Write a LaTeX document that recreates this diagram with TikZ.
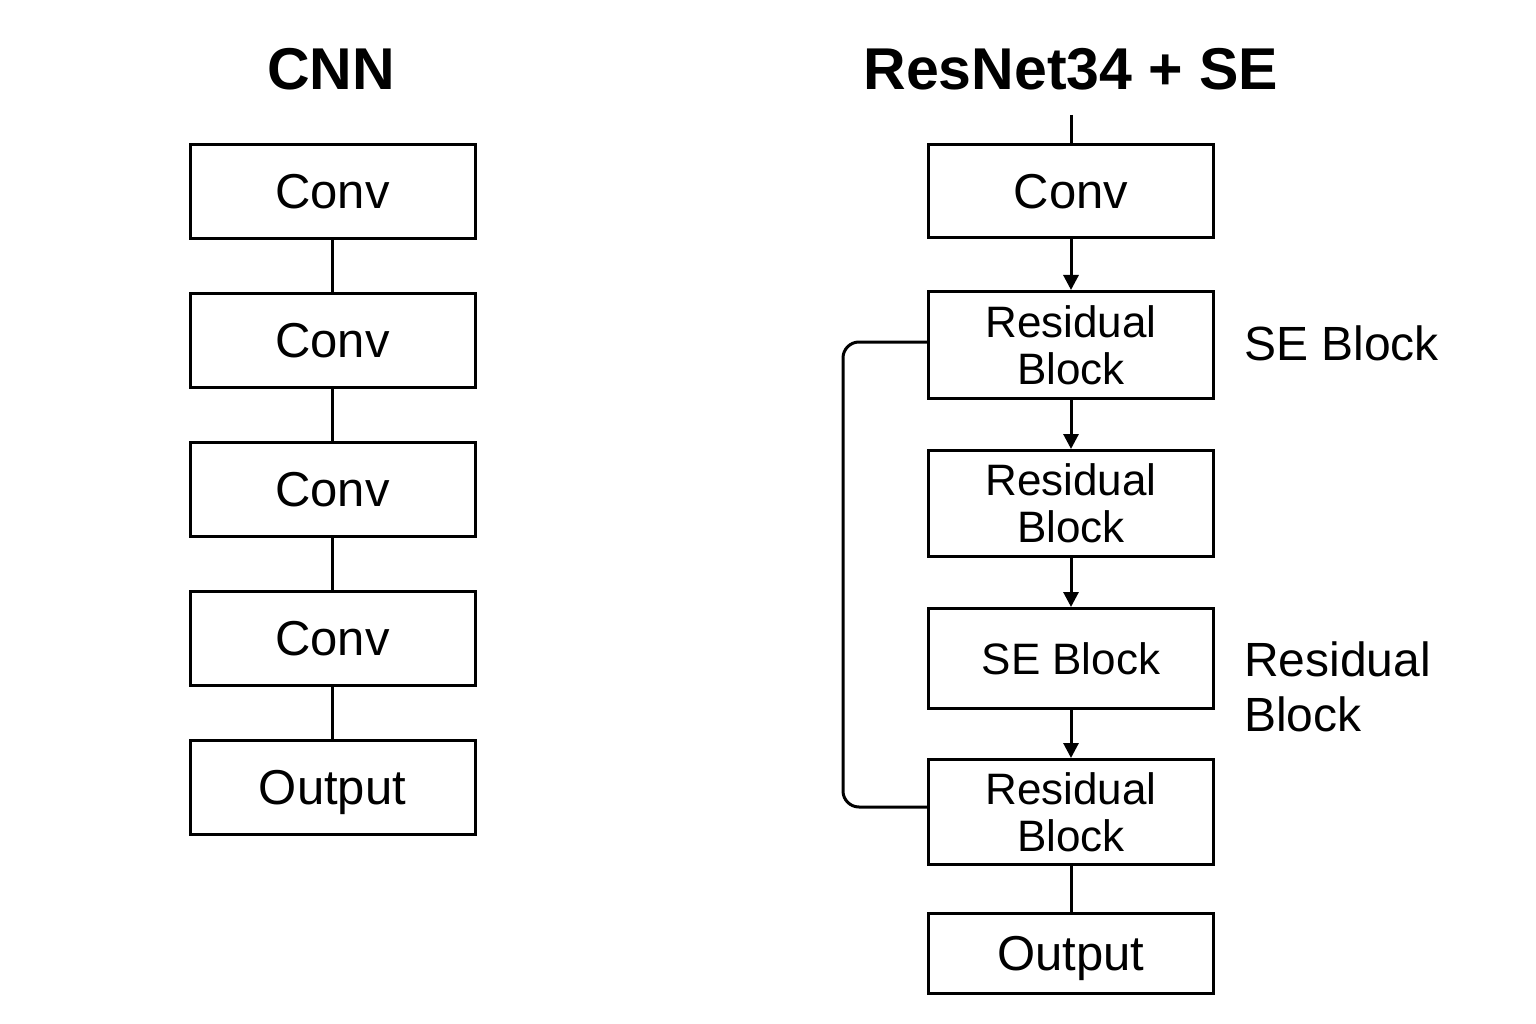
\documentclass[tikz,border=0pt]{standalone}
\usepackage{fontspec}
\setmainfont{Liberation Sans}
\usetikzlibrary{arrows.meta}
\begin{document}
\begin{tikzpicture}[x=1pt,y=-1pt,
  box/.style={draw, line width=3pt, minimum width=285pt, inner sep=0pt, text depth=0pt},
  bigtxt/.style={font=\fontsize{49}{56}\selectfont},
  smalltxt/.style={font=\fontsize{44}{47}\selectfont, align=center},
  title/.style={font=\fontsize{59}{66}\selectfont\bfseries, inner sep=0pt, anchor=base},
  side/.style={font=\fontsize{48}{55}\selectfont, inner sep=0pt, align=left},
  conn/.style={line width=3pt},
  arr/.style={line width=3pt, -{Triangle[width=15pt,length=15pt]}}
]
\useasboundingbox (0,0) rectangle (1536,1024);

% titles
\node[title] (t1) at (331,90) {CNN};
\node[title] (t2) at (1071,90) {ResNet34 + SE};

% CNN column
\node[box, bigtxt, minimum height=94pt] (c1) at (332.5,191.5) {Conv};
\node[box, bigtxt, minimum height=94pt] (c2) at (332.5,340) {Conv};
\node[box, bigtxt, minimum height=94pt] (c3) at (332.5,489) {Conv};
\node[box, bigtxt, minimum height=94pt] (c4) at (332.5,638) {Conv};
\node[box, bigtxt, minimum height=94pt] (c5) at (332.5,787) {Output};
\draw[conn] (c1) -- (c2);
\draw[conn] (c2) -- (c3);
\draw[conn] (c3) -- (c4);
\draw[conn] (c4) -- (c5);

% ResNet column
\coordinate (in) at (1071,115);
\node[box, bigtxt, minimum height=93pt] (r0) at (1071,191) {Conv};
\node[box, smalltxt, minimum height=107pt] (r1) at (1071,345) {Residual\\Block};
\node[box, smalltxt, minimum height=106pt] (r2) at (1071,503.5) {Residual\\Block};
\node[box, smalltxt, minimum height=100pt] (r3) at (1071,658.5) {SE Block};
\node[box, smalltxt, minimum height=105pt] (r4) at (1071,812) {Residual\\Block};
\node[box, bigtxt, minimum height=80pt] (r5) at (1071,953.5) {Output};

\draw[conn] (in) -- (r0);
\draw[arr] (r0) -- (r1);
\draw[arr] (r1) -- (r2);
\draw[arr] (r2) -- (r3);
\draw[arr] (r3) -- (r4);
\draw[conn] (r4) -- (r5);

% skip connection
\coordinate (sk) at (843,575);
\draw[conn, rounded corners=16pt] ([yshift=3pt]r1.west) -| (sk) |- ([yshift=5pt]r4.west);

% side labels
\node[side, anchor=base west] (l1) at (1244,360) {SE Block};
\node[side, anchor=north west] (l2) at (1244,642) {Residual\\Block};
\end{tikzpicture}
\end{document}
